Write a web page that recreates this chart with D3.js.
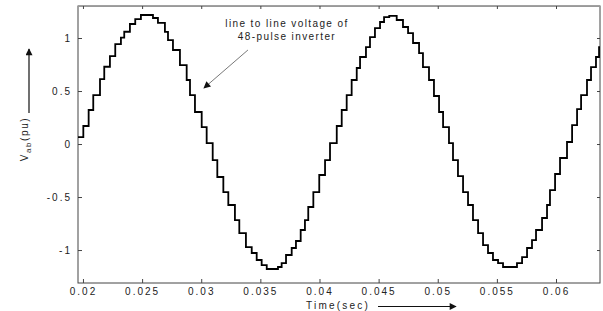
<!DOCTYPE html>
<html>
<head>
<meta charset="utf-8">
<script src="https://cdn.jsdelivr.net/npm/d3@7"></script>
<style>
  body { margin: 0; background: #fff; }
  svg text { font-family: "Liberation Sans", Arial, sans-serif; fill: #222; }
</style>
</head>
<body>
<div id="chart"></div>
<script>
// step start times (s) and step levels (pu)
var stepTimes = [
  0.01958, 0.02003, 0.02048, 0.02087, 0.02144, 0.02180, 0.02228, 0.02273, 0.02321, 0.02349, 0.02397, 0.02442, 0.02490,
  0.02592, 0.02634, 0.02693, 0.02719, 0.02761, 0.02820, 0.02877, 0.02905, 0.02947, 0.03004, 0.03046, 0.03097, 0.03136,
  0.03187, 0.03229, 0.03285, 0.03322, 0.03378, 0.03427, 0.03469, 0.03511, 0.03554,
  0.03649, 0.03680, 0.03717, 0.03765, 0.03801, 0.03841, 0.03877, 0.03905, 0.03948, 0.03998, 0.04047, 0.04089, 0.04146,
  0.04188, 0.04230, 0.04272, 0.04315, 0.04343, 0.04393, 0.04427, 0.04469, 0.04512, 0.04546, 0.04590,
  0.04653, 0.04706, 0.04749, 0.04791, 0.04842, 0.04875, 0.04926, 0.04968, 0.05011, 0.05045, 0.05095, 0.05129, 0.05171,
  0.05214, 0.05256, 0.05298, 0.05341, 0.05383, 0.05425, 0.05467, 0.05510, 0.05552,
  0.05670, 0.05713, 0.05755, 0.05797, 0.05831, 0.05882, 0.05924, 0.05949, 0.05992, 0.06034, 0.06093, 0.06136, 0.06178,
  0.06212, 0.06262, 0.06296, 0.06338, 0.06364
];
var stepLevels = [
  0.066, 0.170, 0.321, 0.462, 0.613, 0.729, 0.830, 0.943, 1.003, 1.059, 1.132, 1.179, 1.217,
  1.189, 1.142, 1.057, 0.981, 0.887, 0.745, 0.604, 0.462, 0.302, 0.160, 0.009, -0.151, -0.311,
  -0.453, -0.575, -0.717, -0.840, -0.972, -1.028, -1.094, -1.142, -1.179,
  -1.160, -1.123, -1.047, -0.981, -0.915, -0.811, -0.717, -0.594, -0.453, -0.292, -0.151, 0.009, 0.170,
  0.321, 0.462, 0.604, 0.717, 0.821, 0.915, 1.009, 1.094, 1.151, 1.198, 1.208,
  1.170, 1.104, 1.047, 0.953, 0.858, 0.726, 0.604, 0.453, 0.302, 0.160, 0.009, -0.151, -0.302,
  -0.453, -0.575, -0.717, -0.840, -0.953, -1.028, -1.094, -1.123, -1.160,
  -1.123, -1.066, -0.981, -0.906, -0.811, -0.698, -0.575, -0.434, -0.283, -0.132, 0.019, 0.179, 0.330,
  0.462, 0.604, 0.726, 0.821, 0.915
];
var timeEnd = 0.06372;

var xTicks = [0.02, 0.025, 0.03, 0.035, 0.04, 0.045, 0.05, 0.055, 0.06];
var yTicks = [-1, -0.5, 0, 0.5, 1];
var xDomain = [0.01958, 0.06372];
var yDomain = [-1.311, 1.302];

var noteLines = ["line to line voltage of", "48-pulse inverter"];

var margin = { top: 6, right: 3, bottom: 28, left: 78 },
    width = 603 - margin.left - margin.right,
    height = 311 - margin.top - margin.bottom;

var svg = d3.select("#chart").append("svg")
    .attr("width", 603)
    .attr("height", 311);

var defs = svg.append("defs");
defs.append("marker")
    .attr("id", "head")
    .attr("viewBox", "0 0 10 10")
    .attr("refX", 9).attr("refY", 5)
    .attr("markerWidth", 9).attr("markerHeight", 7)
    .attr("markerUnits", "userSpaceOnUse")
    .attr("orient", "auto")
  .append("path")
    .attr("d", "M0,0L10,5L0,10z")
    .attr("fill", "#111");

var g = svg.append("g")
    .attr("transform", "translate(" + margin.left + "," + margin.top + ")");

var x = d3.scaleLinear().domain(xDomain).range([0, width]);
var y = d3.scaleLinear().domain(yDomain).range([height, 0]);

// frame
g.append("rect")
    .attr("width", width).attr("height", height)
    .attr("fill", "none")
    .attr("stroke", "#444")
    .attr("stroke-width", 1);
g.append("line")
    .attr("x1", 0).attr("x2", width)
    .attr("y1", 0.5).attr("y2", 0.5)
    .attr("stroke", "#999");

var xAxis = d3.axisBottom(x)
    .tickValues(xTicks)
    .tickSizeInner(-4).tickSizeOuter(0)
    .tickPadding(5)
    .tickFormat(function(d) { return String(d); });

var yAxis = d3.axisLeft(y)
    .tickValues(yTicks)
    .tickSizeInner(-4).tickSizeOuter(0)
    .tickPadding(6)
    .tickFormat(function(d) { return String(d); });

var gx = g.append("g")
    .attr("transform", "translate(0," + height + ")")
    .call(xAxis);
var gy = g.append("g").call(yAxis);

g.append("g").call(d3.axisTop(x).tickValues(xTicks).tickSizeInner(-3).tickSizeOuter(0).tickFormat(""));
g.append("g").attr("transform", "translate(" + width + ",0)")
    .call(d3.axisRight(y).tickValues(yTicks).tickSizeInner(-3).tickSizeOuter(0).tickFormat(""));

g.selectAll(".domain").remove();
g.selectAll(".tick line").attr("stroke", "#444");
[gx, gy].forEach(function(a) {
  a.selectAll("text")
    .attr("font-size", 10)
    .attr("letter-spacing", "2px")
    .attr("fill", "#222")
    .attr("font-family", "'Liberation Sans', Arial, sans-serif");
});

// the waveform
var pts = d3.zip(stepTimes, stepLevels);
pts.push([timeEnd, stepLevels[stepLevels.length - 1]]);

var line = d3.line()
    .x(function(d) { return x(d[0]); })
    .y(function(d) { return y(d[1]); })
    .curve(d3.curveStepAfter);

g.append("path")
    .datum(pts)
    .attr("d", line)
    .attr("fill", "none")
    .attr("stroke", "#000")
    .attr("stroke-width", 1.8)
    .attr("stroke-linejoin", "miter");

// annotation
var note = g.append("text")
    .attr("font-size", 10)
    .attr("letter-spacing", "1.4px")
    .attr("text-anchor", "middle");
note.selectAll("tspan")
    .data(noteLines)
  .enter().append("tspan")
    .attr("x", x(0.03725))
    .attr("y", function(d, i) { return y(1.10) + i * 12.5; })
    .text(function(d) { return d; });

g.append("line")
    .attr("x1", x(0.03395)).attr("y1", y(0.887))
    .attr("x2", x(0.03023)).attr("y2", y(0.528))
    .attr("stroke", "#555")
    .attr("stroke-width", 0.8)
    .attr("marker-end", "url(#head)");

// axis titles
svg.append("text")
    .attr("x", 338).attr("y", 309)
    .attr("text-anchor", "middle")
    .attr("font-size", 10)
    .attr("letter-spacing", "2.2px")
    .text("Time(sec)");

svg.append("line")
    .attr("x1", 378).attr("y1", 306.5)
    .attr("x2", 456).attr("y2", 306.5)
    .attr("stroke", "#111")
    .attr("stroke-width", 1)
    .attr("marker-end", "url(#head)");

var ylab = svg.append("text")
    .attr("transform", "translate(28,139) rotate(-90)")
    .attr("text-anchor", "middle")
    .attr("font-size", 10)
    .attr("letter-spacing", "1.6px");
ylab.append("tspan").text("V");
ylab.append("tspan").attr("font-size", 8).attr("dy", 3).text("ab");
ylab.append("tspan").attr("dy", -3).text("(pu)");

svg.append("line")
    .attr("x1", 29).attr("y1", 113)
    .attr("x2", 29).attr("y2", 49)
    .attr("stroke", "#111")
    .attr("stroke-width", 1.2)
    .attr("marker-end", "url(#head)");
</script>
</body>
</html>
